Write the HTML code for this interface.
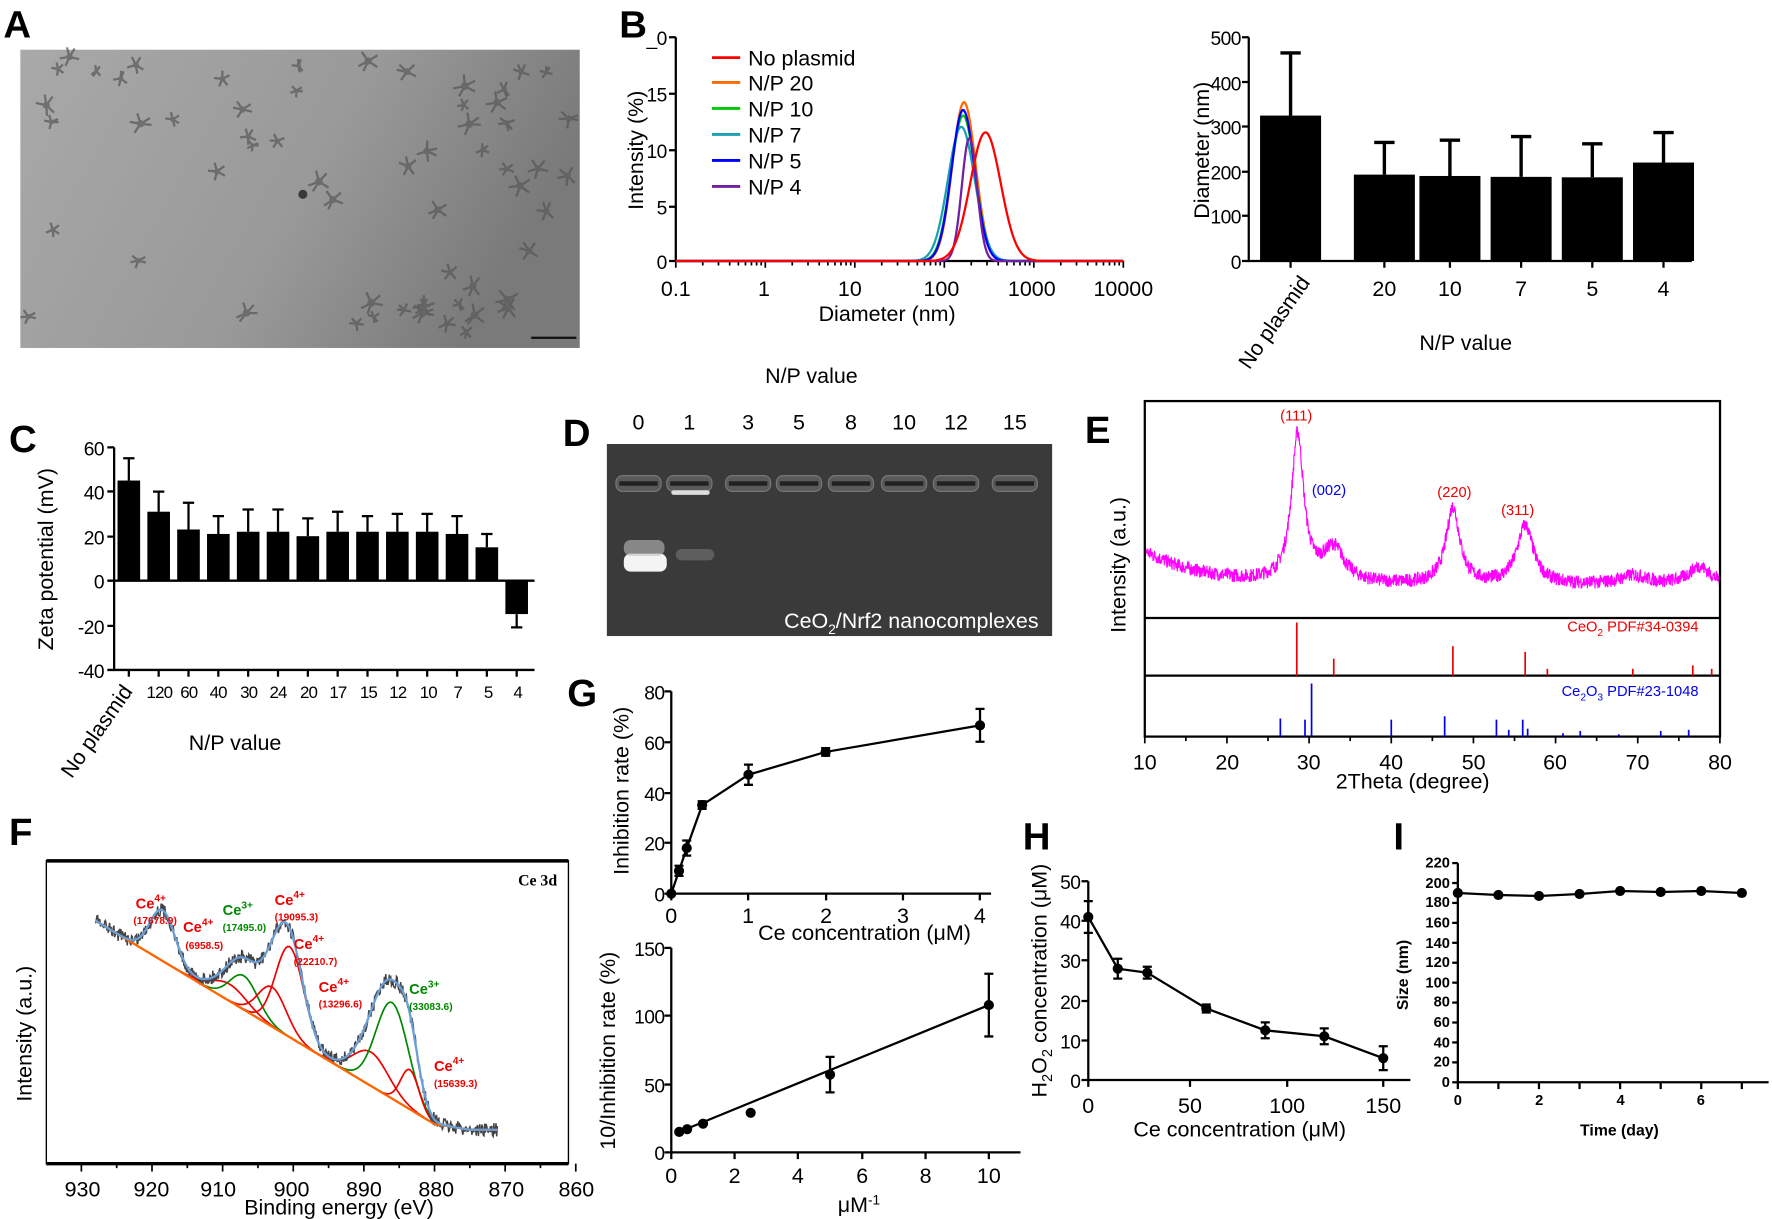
<!DOCTYPE html>
<html><head><meta charset="utf-8"><style>
html,body{margin:0;padding:0;background:#fff;}
svg{display:block;}
text{font-family:"Liberation Sans Narrow","Liberation Sans",Arial,sans-serif;fill:#000;}
.t{font-size:19px;}
.n{font-size:17px;letter-spacing:-0.5px;}
.s{font-size:13px;font-weight:bold;}
.L{font-family:"Liberation Sans",Arial,sans-serif;font-size:34px;font-weight:bold;}
.ser{font-family:"Liberation Serif",serif;}
</style></head><body>
<svg id="sv" width="1772" height="1219" viewBox="0 0 1568 1079" preserveAspectRatio="none" xmlns="http://www.w3.org/2000/svg">
<defs>
<linearGradient id="tem" x1="0" x2="1" y1="0" y2="0.3"><stop offset="0" stop-color="#a9a9a9"/><stop offset="0.6" stop-color="#999"/><stop offset="1" stop-color="#7a7a7a"/></linearGradient>
</defs>
<!-- A -->
<text class="L" x="3" y="33">A</text>
<rect x="18" y="44" width="495" height="264" fill="url(#tem)"/>
<g id="temdots" fill="#5a5a5a" opacity="0.7"></g>
<rect x="470" y="298" width="40" height="2" fill="#111"/>

<!-- B left -->
<text class="L" x="548" y="33">B</text>
<g stroke="#000" stroke-width="2" fill="none">
<path d="M598,33 V231 H994"/>
<path d="M592,33H598M592,83H598M592,133H598M592,183H598M592,231H598"/>
</g>
<g id="logticks" stroke="#000" stroke-width="1.5"></g>
<g class="t n" text-anchor="end"><text x="590" y="40">_0</text><text x="590" y="90">15</text><text x="590" y="140">10</text><text x="590" y="190">5</text><text x="590" y="238">0</text></g>
<g class="t" text-anchor="middle"><text x="598" y="262">0.1</text><text x="676" y="262">1</text><text x="752" y="262">10</text><text x="833" y="262">100</text><text x="913" y="262">1000</text><text x="994" y="262">10000</text>
<text x="785" y="284">Diameter (nm)</text>
<text transform="rotate(-90 569 133)" x="569" y="133">Intensity (%)</text>
<text x="718" y="339">N/P value</text></g>
<g id="dls" fill="none" stroke-width="2"></g>
<g stroke-width="2.5">
<line x1="630" y1="51" x2="655" y2="51" stroke="#f00"/><line x1="630" y1="73" x2="655" y2="73" stroke="#ff6a00"/><line x1="630" y1="96" x2="655" y2="96" stroke="#0c0"/><line x1="630" y1="119" x2="655" y2="119" stroke="#1aa0b0"/><line x1="630" y1="142" x2="655" y2="142" stroke="#00f"/><line x1="630" y1="165" x2="655" y2="165" stroke="#7020a0"/></g>
<g class="t"><text x="662" y="58">No plasmid</text><text x="662" y="80">N/P 20</text><text x="662" y="103">N/P 10</text><text x="662" y="126">N/P 7</text><text x="662" y="149">N/P 5</text><text x="662" y="172">N/P 4</text></g>

<!-- B right -->
<g id="bbar"></g>
<g stroke="#000" stroke-width="2" fill="none"><path d="M1105,33V231H1497"/><path d="M1099,33H1105M1099,72.6H1105M1099,112H1105M1099,152H1105M1099,191H1105M1099,231H1105"/></g>
<g class="t n" text-anchor="end"><text x="1098" y="40">500</text><text x="1098" y="80">400</text><text x="1098" y="119">300</text><text x="1098" y="159">200</text><text x="1098" y="198">100</text><text x="1098" y="238">0</text></g>
<g class="t" text-anchor="middle"><text x="1225" y="262">20</text><text x="1283" y="262">10</text><text x="1346" y="262">7</text><text x="1409" y="262">5</text><text x="1472" y="262">4</text>
<text x="1297" y="310">N/P value</text>
<text transform="rotate(-90 1070 133)" x="1070" y="133">Diameter (nm)</text></g>
<text class="t" text-anchor="end" transform="rotate(-55 1160 250)" x="1160" y="250">No plasmid</text>

<!-- C -->
<text class="L" x="8" y="400">C</text>
<g id="cbar"></g>
<g stroke="#000" stroke-width="2" fill="none"><path d="M101,396V593H473M101,514H473"/><path d="M95,396H101M95,435H101M95,475H101M95,514H101M95,554H101M95,593H101"/></g>
<g class="t n" text-anchor="end"><text x="92" y="403">60</text><text x="92" y="442">40</text><text x="92" y="482">20</text><text x="92" y="521">0</text><text x="92" y="561">-20</text><text x="92" y="600">-40</text></g>
<g class="t" text-anchor="middle"><g style="font-size:15px;letter-spacing:-0.8px"><text x="141" y="618">120</text><text x="167" y="618">60</text><text x="193" y="618">40</text><text x="220" y="618">30</text><text x="246" y="618">24</text><text x="273" y="618">20</text><text x="299" y="618">17</text><text x="326" y="618">15</text><text x="352" y="618">12</text><text x="379" y="618">10</text><text x="405" y="618">7</text><text x="432" y="618">5</text><text x="458" y="618">4</text></g>
<text x="208" y="664">N/P value</text>
<text transform="rotate(-90 47 495)" x="47" y="495">Zeta potential (mV)</text></g>
<text class="t" text-anchor="end" transform="rotate(-55 118 612)" x="118" y="612">No plasmid</text>

<!-- D -->
<text class="L" x="498" y="395">D</text>
<rect x="537" y="393" width="394" height="170" fill="#3a3a3a"/>
<g id="wells"></g>
<rect x="552" y="490" width="38" height="16" rx="6" fill="#f4f4f4"/>
<rect x="552" y="478" width="36" height="14" rx="6" fill="#bbb" opacity="0.6"/>
<rect x="598" y="486" width="34" height="10" rx="5" fill="#777" opacity="0.6"/>
<g class="t" text-anchor="middle"><text x="565" y="380">0</text><text x="610" y="380">1</text><text x="662" y="380">3</text><text x="707" y="380">5</text><text x="753" y="380">8</text><text x="800" y="380">10</text><text x="846" y="380">12</text><text x="898" y="380">15</text></g>
<text class="t" text-anchor="end" x="919" y="556" style="fill:#fff">CeO<tspan font-size="12" dy="5" style="fill:#fff">2</tspan><tspan dy="-5" style="fill:#fff">/Nrf2 nanocomplexes</tspan></text>

<!-- E -->
<text class="L" x="960" y="392">E</text>
<g id="xrd" fill="none"></g>
<g stroke="#000" fill="none"><rect x="1013" y="355" width="509" height="297" stroke-width="2"/><path d="M1013,547H1522M1013,598H1522" stroke-width="2"/></g>
<g id="sticks"></g>
<g id="eticks" stroke="#000" stroke-width="1.5"></g>
<g class="t" text-anchor="middle"><text x="1013" y="681">10</text><text x="1086" y="681">20</text><text x="1158" y="681">30</text><text x="1231" y="681">40</text><text x="1304" y="681">50</text><text x="1376" y="681">60</text><text x="1449" y="681">70</text><text x="1522" y="681">80</text>
<text x="1250" y="698">2Theta (degree)</text>
<text transform="rotate(-90 996 500)" x="996" y="500">Intensity (a.u.)</text></g>
<g class="ser" font-size="13" text-anchor="middle"><text x="1147" y="372" style="fill:#e00">(111)</text><text x="1176" y="438" style="fill:#00e">(002)</text><text x="1287" y="440" style="fill:#e00">(220)</text><text x="1343" y="456" style="fill:#e00">(311)</text>
<text x="1503" y="559" text-anchor="end" style="fill:#e00">CeO<tspan font-size="9" dy="4" style="fill:#e00">2</tspan><tspan dy="-4" style="fill:#e00"> PDF#34-0394</tspan></text>
<text x="1503" y="616" text-anchor="end" style="fill:#00e">Ce<tspan font-size="9" dy="4" style="fill:#00e">2</tspan><tspan dy="-4" style="fill:#00e">O</tspan><tspan font-size="9" dy="4" style="fill:#00e">3</tspan><tspan dy="-4" style="fill:#00e"> PDF#23-1048</tspan></text></g>

<!-- F -->
<text class="L" x="8" y="748">F</text>
<g stroke="#000" fill="none"><rect x="41" y="762" width="462" height="268" stroke-width="1.2"/><path d="M41,762H503M41,1030H503" stroke-width="3"/></g>
<g id="fticks" stroke="#000" stroke-width="1.5"></g>
<g id="xps" fill="none"></g>
<g class="t" text-anchor="middle"><text x="73" y="1059">930</text><text x="134" y="1059">920</text><text x="193" y="1059">910</text><text x="258" y="1059">900</text><text x="322" y="1059">890</text><text x="386" y="1059">880</text><text x="448" y="1059">870</text><text x="510" y="1059">860</text>
<text x="300" y="1075">Binding energy (eV)</text>
<text transform="rotate(-90 28 915)" x="28" y="915">Intensity (a.u.)</text></g>
<text class="ser" font-size="14" font-weight="bold" x="493" y="784" text-anchor="end">Ce 3d</text>
<g class="ser" font-size="13" font-weight="bold">
<text x="120" y="804" style="fill:#e00">Ce<tspan font-size="9" dy="-6" style="fill:#e00">4+</tspan></text><text x="118" y="818" font-size="9" style="fill:#e00">(17678.9)</text>
<text x="162" y="825" style="fill:#e00">Ce<tspan font-size="9" dy="-6" style="fill:#e00">4+</tspan></text><text x="164" y="840" font-size="9" style="fill:#e00">(6958.5)</text>
<text x="197" y="810" style="fill:#080">Ce<tspan font-size="9" dy="-6" style="fill:#080">3+</tspan></text><text x="197" y="824" font-size="9" style="fill:#080">(17495.0)</text>
<text x="243" y="801" style="fill:#e00">Ce<tspan font-size="9" dy="-6" style="fill:#e00">4+</tspan></text><text x="243" y="815" font-size="9" style="fill:#e00">(19095.3)</text>
<text x="260" y="840" style="fill:#e00">Ce<tspan font-size="9" dy="-6" style="fill:#e00">4+</tspan></text><text x="260" y="854" font-size="9" style="fill:#e00">(22210.7)</text>
<text x="282" y="878" style="fill:#e00">Ce<tspan font-size="9" dy="-6" style="fill:#e00">4+</tspan></text><text x="282" y="892" font-size="9" style="fill:#e00">(13296.6)</text>
<text x="362" y="880" style="fill:#080">Ce<tspan font-size="9" dy="-6" style="fill:#080">3+</tspan></text><text x="362" y="894" font-size="9" style="fill:#080">(33083.6)</text>
<text x="384" y="948" style="fill:#e00">Ce<tspan font-size="9" dy="-6" style="fill:#e00">4+</tspan></text><text x="384" y="962" font-size="9" style="fill:#e00">(15639.3)</text></g>

<!-- G top -->
<text class="L" x="502" y="625">G</text>
<g stroke="#000" stroke-width="2" fill="none"><path d="M594,612V791H877"/><path d="M588,612H594M588,657H594M588,702H594M588,746H594M588,791H594M594,791V797M662,791V797M731,791V797M799,791V797M867,791V797"/></g>
<g class="t n" text-anchor="end"><text x="588" y="619">80</text><text x="588" y="664">60</text><text x="588" y="709">40</text><text x="588" y="753">20</text><text x="588" y="798">0</text></g>
<g class="t" text-anchor="middle"><text x="594" y="817">0</text><text x="662" y="817">1</text><text x="731" y="817">2</text><text x="799" y="817">3</text><text x="867" y="817">4</text>
<text x="765" y="832">Ce concentration (μM)</text>
<text transform="rotate(-90 556 700)" x="556" y="700">Inhibition rate (%)</text></g>
<g id="g1"></g>
<!-- G bottom -->
<g stroke="#000" stroke-width="2" fill="none"><path d="M594,839V1020H903"/><path d="M588,839H594M588,899H594M588,960H594M588,1020H594M594,1020V1026M650,1020V1026M706,1020V1026M763,1020V1026M819,1020V1026M875,1020V1026"/></g>
<g class="t n" text-anchor="end"><text x="588" y="846">150</text><text x="588" y="906">100</text><text x="588" y="967">50</text><text x="588" y="1027">0</text></g>
<g class="t" text-anchor="middle"><text x="594" y="1047">0</text><text x="650" y="1047">2</text><text x="706" y="1047">4</text><text x="763" y="1047">6</text><text x="819" y="1047">8</text><text x="875" y="1047">10</text>
<text x="760" y="1073">μM<tspan font-size="12" dy="-7">-1</tspan></text>
<text transform="rotate(-90 544 930)" x="544" y="930">10/Inhibition rate (%)</text></g>
<g id="g2"></g>

<!-- H -->
<text class="L" x="905" y="752">H</text>
<g stroke="#000" stroke-width="2" fill="none"><path d="M963,780V956H1248"/><path d="M957,780H963M957,815H963M957,850H963M957,886H963M957,921H963M957,956H963M963,956V962M1053,956V962M1139,956V962M1224,956V962"/></g>
<g class="t n" text-anchor="end"><text x="956" y="787">50</text><text x="956" y="822">40</text><text x="956" y="857">30</text><text x="956" y="893">20</text><text x="956" y="928">10</text><text x="956" y="963">0</text></g>
<g class="t" text-anchor="middle"><text x="963" y="985">0</text><text x="1053" y="985">50</text><text x="1139" y="985">100</text><text x="1224" y="985">150</text>
<text x="1097" y="1006">Ce concentration (μM)</text>
<text transform="rotate(-90 926 868)" x="926" y="868">H<tspan font-size="13" dy="5">2</tspan><tspan dy="-5">O</tspan><tspan font-size="13" dy="5">2</tspan><tspan dy="-5"> concentration (μM)</tspan></text></g>
<g id="h1"></g>

<!-- I -->
<text class="L" x="1233" y="752">I</text>
<g stroke="#000" stroke-width="2" fill="none"><path d="M1290,764V958H1565"/><g id="iticks"></g></g>
<g class="s" text-anchor="end" id="ilab"><text x="1283" y="962">0</text><text x="1283" y="944">20</text><text x="1283" y="927">40</text><text x="1283" y="909">60</text><text x="1283" y="891">80</text><text x="1283" y="874">100</text><text x="1283" y="856">120</text><text x="1283" y="839">140</text><text x="1283" y="821">160</text><text x="1283" y="803">180</text><text x="1283" y="786">200</text><text x="1283" y="768">220</text></g>
<g class="s" text-anchor="middle"><text x="1290" y="978">0</text><text x="1362" y="978">2</text><text x="1434" y="978">4</text><text x="1505" y="978">6</text>
<text x="1433" y="1005" font-size="14">Time (day)</text>
<text transform="rotate(-90 1246 863)" x="1246" y="863" font-size="14">Size (nm)</text></g>
<g id="i1"></g>
</svg>
<script>
var NS="http://www.w3.org/2000/svg";
function el(p,t,a){var e=document.createElementNS(NS,t);for(var k in a)e.setAttribute(k,a[k]);document.getElementById(p).appendChild(e);return e;}
var seed=7;function rnd(){seed=(seed*16807)%2147483647;return seed/2147483647;}
// TEM particles (small star-like blobs)
for(var i=0;i<60;i++){var x=25+rnd()*480,y=50+rnd()*250,r=3+rnd()*3;for(var k=0;k<5;k++){var a=k*1.256+rnd();el("temdots","line",{x1:x,y1:y,x2:x+Math.cos(a)*r*1.8,y2:y+Math.sin(a)*r*1.8,stroke:"#555","stroke-width":2});}el("temdots","circle",{cx:x,cy:y,r:r*0.6});}
el("temdots","circle",{cx:268,cy:172,r:4,fill:"#111"});
// log ticks
for(var d=-1;d<4;d++){for(var m=1;m<10;m++){var x=598+(d+1+Math.log10(m))*79.2;el("logticks","line",{x1:x,x2:x,y1:231,y2:m==1?237:235});}}
el("logticks","line",{x1:994,x2:994,y1:231,y2:237});
// DLS
var ser=[["#f00",2.46,0.17,11.5],["#ff6a00",2.22,0.13,14.2],["#0c0",2.21,0.135,13],["#1aa0b0",2.19,0.15,12],["#00f",2.21,0.13,13.5],["#7020a0",2.28,0.085,11]];
ser.slice(1).concat([ser[0]]).forEach(function(s){var p="";for(var x=598;x<=994;x+=1){var l=(x-598)/79.2-1;var v=s[3]*Math.exp(-Math.pow(l-s[1],2)/(2*s[2]*s[2]));p+=(p?"L":"M")+x+","+(231-v*9.9).toFixed(1);}el("dls","path",{d:p,stroke:s[0]});});
// B right bars
var bx=[1142,1225,1283,1346,1409,1472],bv=[325,193,190,188,187,220],be=[465,265,270,278,262,287];
bx.forEach(function(x,i){var y=231-bv[i]*0.396,ye=231-be[i]*0.396;el("bbar","rect",{x:x-27,y:y,width:54,height:231-y,fill:"#000"});el("bbar","path",{d:"M"+x+","+y+"V"+ye+"M"+(x-9)+","+ye+"H"+(x+9),stroke:"#000","stroke-width":3});el("bbar","line",{x1:x,x2:x,y1:231,y2:237,stroke:"#000","stroke-width":2});});
// C bars
var cv=[45,31,23,21,22,22,20,22,22,22,22,21,15,-15],ce=[55,40,35,29,32,32,28,31,29,30,30,29,21,-21];
cv.forEach(function(v,i){var x=114+i*26.4;var y=514-v*1.97,ye=514-ce[i]*1.97;el("cbar","rect",{x:x-10,y:Math.min(y,514),width:20,height:Math.abs(514-y),fill:"#000"});el("cbar","path",{d:"M"+x+","+y+"V"+ye+"M"+(x-5)+","+ye+"H"+(x+5),stroke:"#000","stroke-width":2});el("cbar","line",{x1:x,x2:x,y1:593,y2:599,stroke:"#000","stroke-width":2});});
// gel wells
[565,610,662,707,753,800,846,898].forEach(function(x,i){el("wells","rect",{x:x-20,y:421,width:40,height:14,rx:6,fill:"#5a5a5a",stroke:"#777"});el("wells","rect",{x:x-17,y:426,width:34,height:4,fill:"#222"});});
el("wells","rect",{x:594,y:434,width:34,height:4,rx:2,fill:"#ddd"});
// XRD
function lor(t,c,h,w){return h/(1+Math.pow((t-c)/w,2));}
var p="";for(var t=10;t<=80;t+=0.04){var b=12+30*Math.exp(-(t-10)/7);var v=b+lor(t,28.6,130,0.9)+lor(t,33,30,1.6)+lor(t,47.5,68,1.0)+lor(t,56.3,52,1.2)+lor(t,69.5,8,2)+lor(t,77.5,16,1.6)+(rnd()-0.5)*12;p+=(p?"L":"M")+(1013+(t-10)*7.27).toFixed(1)+","+(530-v).toFixed(1);}
el("xrd","path",{d:p,stroke:"#f0f","stroke-width":1});
function tx(t){return 1013+(t-10)*7.27;}
[[28.5,551],[33,583],[47.5,572],[56.3,577],[59,592],[69.4,592],[76.7,589],[79,592]].forEach(function(a){el("sticks","line",{x1:tx(a[0]),x2:tx(a[0]),y1:598,y2:a[1],stroke:"#e00","stroke-width":1.5});});
[[26.5,636],[29.5,637],[30.3,605],[40,637],[46.5,634],[52.8,637],[54.3,646],[56,637],[56.6,645],[60.9,649],[63,647],[67.7,650],[72.8,647],[76.2,646]].forEach(function(a){el("sticks","line",{x1:tx(a[0]),x2:tx(a[0]),y1:652,y2:a[1],stroke:"#00e","stroke-width":1.5});});
for(var t=10;t<=80;t+=5){el("eticks","line",{x1:tx(t),x2:tx(t),y1:652,y2:t%10==0?658:656});}
// XPS
function fx(E){return 72+(930-E)*6.25;}
function bg(E){return E>880?815+(928-E)*3.75:Math.min(1000,995+(880-E)*1);}
var comps=[[918.5,45,1.8,"#e00"],[909,15,2.5,"#e00"],[907,30,2,"#080"],[903,35,2,"#e00"],[900.5,80,2,"#e00"],[889,30,2.5,"#e00"],[886,85,2.3,"#080"],[883.5,35,1.3,"#e00"]];
function g(E,c){return c[1]*Math.exp(-Math.pow(E-c[0],2)/(2*c[2]*c[2]));}
comps.forEach(function(c){var p="";for(var E=928;E>=871;E-=0.2){p+=(p?"L":"M")+fx(E).toFixed(1)+","+(bg(E)-g(E,c)).toFixed(1);}el("xps","path",{d:p,stroke:c[3],"stroke-width":1.5});});
var pb="",pd="";for(var E=928;E>=871;E-=0.1){var s=0;comps.forEach(function(c){s+=g(E,c);});var y=bg(E)-s;pd+=(pd?"L":"M")+fx(E).toFixed(1)+","+(y+(rnd()-0.5)*12).toFixed(1);pb+=(pb?"L":"M")+fx(E).toFixed(1)+","+y.toFixed(1);}
var pbg="";for(var E=928;E>=871;E-=0.5){pbg+=(pbg?"L":"M")+fx(E).toFixed(1)+","+bg(E).toFixed(1);}
el("xps","path",{d:pd,stroke:"#444","stroke-width":1.3});
el("xps","path",{d:pbg,stroke:"#f60","stroke-width":2});
el("xps","path",{d:pb,stroke:"#6a9fd8","stroke-width":2});
for(var E=930;E>=860;E-=5){el("fticks","line",{x1:fx(E),x2:fx(E),y1:1030,y2:E%10==0?1037:1034});}
// line plots
function lp(id,pts,fx,fy,lin){var p="";pts.forEach(function(q){p+=(p?"L":"M")+fx(q[0])+","+fy(q[1]);});
if(lin)p="M"+fx(lin[0][0])+","+fy(lin[0][1])+"L"+fx(lin[1][0])+","+fy(lin[1][1]);
el(id,"path",{d:p,stroke:"#000","stroke-width":2,fill:"none"});
pts.forEach(function(q){var x=fx(q[0]),y=fy(q[1]);if(q[2]){var a=fy(q[1]+q[2]),b=fy(q[1]-q[2]);el(id,"path",{d:"M"+x+","+a+"V"+b+"M"+(x-4)+","+a+"H"+(x+4)+"M"+(x-4)+","+b+"H"+(x+4),stroke:"#000","stroke-width":2});}el(id,"circle",{cx:x,cy:y,r:4.5,fill:"#000"});});}
lp("g1",[[0,0,0],[0.1,9,2],[0.2,18,3],[0.4,35,1.5],[1,47,4],[2,56,1.5],[4,66.5,6.5]],function(x){return 594+x*68.3;},function(v){return 791-v*2.24;});
lp("g2",[[0.25,15,0],[0.5,17,0],[1,21,0],[2.5,29,0],[5,57,13],[10,108,23]],function(x){return 594+x*28.1;},function(v){return 1020-v*1.207;},[[0.25,15],[10,108]]);
lp("h1",[[0,41,4],[15,28,2.5],[30,27,1.5],[60,18,1],[90,12.5,2],[120,11,2],[150,5.5,3]],function(x){return 963+x*1.74;},function(v){return 956-v*3.52;});
lp("i1",[[0,190],[1,188],[2,187],[3,189],[4,192],[5,191],[6,192],[7,190]],function(x){return 1290+x*35.9;},function(v){return 958-v*0.882;});
for(var v=0;v<=220;v+=20){el("iticks","line",{x1:1285,x2:1290,y1:958-v*0.882,y2:958-v*0.882});}
for(var d=0;d<=7;d++){el("iticks","line",{x1:1290+d*35.9,x2:1290+d*35.9,y1:958,y2:964});}
</script>
</body></html>
